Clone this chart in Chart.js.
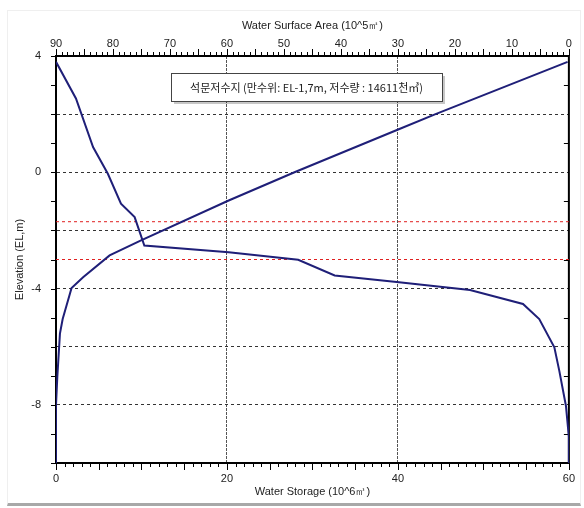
<!DOCTYPE html>
<html>
<head>
<meta charset="utf-8">
<script src="https://cdn.jsdelivr.net/npm/chart.js@4.4.1/dist/chart.umd.min.js"></script>
<style>
  body { margin:0; background:#fff; }
  #frame { position:absolute; left:7px; top:10px; width:572px; height:492px; border:1px solid #efefef; border-bottom:3px solid #a8a8a8; }
  #chart { position:absolute; left:0; top:0; }
</style>
</head>
<body>
<div id="frame"></div>
<canvas id="chart" width="584" height="508"></canvas>
<script>
// water storage curve (10^6 m3) vs elevation (EL, m)
const storage     = [0, 0, 0.15, 0.46, 0.78, 1.82, 3.17, 6.27, 9.95, 20.2, 27.9, 40.1, 44.4, 59.85];
const storageElev = [-10, -8, -7.06, -5.55, -5.05, -3.98, -3.61, -2.86, -2.34, -0.97, 0.0, 1.48, 2.0, 3.8];

// water surface area curve (10^5 m2) vs elevation
const area     = [90, 86.5, 83.5, 80.9, 78.6, 76.2, 74.5, 59.7, 47.5, 41.1, 29.8, 17.35, 8.05, 5.2, 2.55, 1.68, 0.52, 0, 0];
const areaElev = [3.8, 2.54, 0.87, -0.05, -1.08, -1.54, -2.52, -2.75, -3.01, -3.55, -3.78, -4.05, -4.53, -5.05, -6.02, -6.83, -8.03, -9.1, -10];

// reference levels (red dashed)
const fullLevel = -1.7;
const deadLevel = -3.0;

const boxText = '석문저수지 (만수위: EL-1,7m, 저수량 : 14611천㎥)';

const FONT = "'Liberation Sans', Arial, sans-serif";
const ink = '#222';
const navy = '#1f1f78';
const red = '#e02020';
const none = 'rgba(0,0,0,0)';

const toPts = (xs, ys) => xs.map((v, i) => ({x: v, y: ys[i]}));

const extras = {
  id: 'extras',
  beforeDatasetsDraw(chart) {
    const {ctx, chartArea: a, scales} = chart;
    ctx.save();
    ctx.strokeStyle = '#000';
    ctx.lineWidth = 1;
    const line = (x1, y1, x2, y2) => { ctx.beginPath(); ctx.moveTo(x1, y1); ctx.lineTo(x2, y2); ctx.stroke(); };
    scales.x.ticks.forEach(t => {
      const px = Math.round(scales.x.getPixelForValue(t.value)) + 0.5;
      line(px, a.bottom, px, a.bottom + (t.value % 5 === 0 ? 7 : 4));
    });
    scales.x2.ticks.forEach(t => {
      const px = Math.round(scales.x2.getPixelForValue(t.value)) + 0.5;
      line(px, a.top, px, a.top - (t.value % 5 === 0 ? 7 : 4));
    });
    scales.y.ticks.forEach(t => {
      const py = Math.round(scales.y.getPixelForValue(t.value)) + 0.5;
      line(a.left, py, a.left - 5, py);
      if (Math.abs(t.value % 2) === 1) line(a.right, py, a.right - 5, py);
    });
    ctx.lineWidth = 2;
    line(a.right, a.top - 1, a.right, a.bottom + 1);
    ctx.restore();
  },
  afterDraw(chart) {
    const {ctx, chartArea: a} = chart;
    const x = a.left + 115, y = a.top + 17, w = 271, h = 28;
    ctx.save();
    ctx.fillStyle = 'rgba(0,0,0,0.22)';
    ctx.fillRect(x + 3, y + 3, w, h);
    ctx.fillStyle = '#fff';
    ctx.fillRect(x, y, w, h);
    ctx.strokeStyle = '#444';
    ctx.lineWidth = 1;
    ctx.strokeRect(x + 0.5, y + 0.5, w, h);
    ctx.fillStyle = ink;
    ctx.font = "11px 'Noto Sans CJK KR'";
    ctx.textAlign = 'center';
    ctx.textBaseline = 'middle';
    ctx.fillText(boxText, x + w / 2, y + h / 2 + 1);
    ctx.restore();
  }
};

const tickFont = {family: FONT, size: 11};

new Chart(document.getElementById('chart'), {
  type: 'scatter',
  data: {
    datasets: [
      { label: 'Water Storage', data: toPts(storage, storageElev), xAxisID: 'x', yAxisID: 'y',
        showLine: true, borderColor: navy, borderWidth: 2, pointRadius: 0 },
      { label: 'Water Surface Area', data: toPts(area, areaElev), xAxisID: 'x2', yAxisID: 'y',
        showLine: true, borderColor: navy, borderWidth: 2, pointRadius: 0 },
      { label: 'Full level', data: toPts([0, 60], [fullLevel, fullLevel]), xAxisID: 'x', yAxisID: 'y',
        showLine: true, borderColor: red, borderWidth: 1, borderDash: [3, 3], pointRadius: 0 },
      { label: 'Dead level', data: toPts([0, 60], [deadLevel, deadLevel]), xAxisID: 'x', yAxisID: 'y',
        showLine: true, borderColor: red, borderWidth: 1, borderDash: [3, 3], pointRadius: 0 }
    ]
  },
  options: {
    responsive: false,
    animation: false,
    layout: { padding: { right: 11 } },
    plugins: { legend: { display: false }, tooltip: { enabled: false } },
    scales: {
      x: {
        type: 'linear', position: 'bottom', min: 0, max: 60,
        ticks: { stepSize: 1, autoSkip: false, maxRotation: 0, padding: 9, color: ink, font: tickFont,
                 callback: v => v % 20 === 0 ? v : '' },
        grid: { drawTicks: false, color: c => (c.tick && (c.tick.value === 20 || c.tick.value === 40)) ? '#555' : none },
        border: { color: '#000', width: 2, dash: [2, 2] },
        title: { display: true, text: 'Water Storage (10^6㎥)', color: ink, font: tickFont, padding: { top: 0, bottom: 9 } },
        afterFit: s => { s.height = 45; }
      },
      x2: {
        type: 'linear', position: 'top', min: 0, max: 90, reverse: true,
        ticks: { stepSize: 1, autoSkip: false, maxRotation: 0, padding: 5, color: ink, font: tickFont,
                 callback: v => v % 10 === 0 ? v : '' },
        grid: { drawTicks: false, color: c => (c.tick && (c.tick.value === 30 || c.tick.value === 60)) ? '#555' : none },
        border: { color: '#000', width: 2, dash: [2, 2] },
        title: { display: true, text: 'Water Surface Area (10^5㎡)', color: ink, font: tickFont, padding: { top: 19, bottom: 0 } },
        afterFit: s => { s.height = 56; }
      },
      y: {
        type: 'linear', position: 'left', min: -10, max: 4,
        ticks: { stepSize: 1, autoSkip: false, padding: 15, color: ink, font: tickFont,
                 callback: v => v % 4 === 0 ? v : '' },
        grid: { drawTicks: false, color: c => (c.tick && c.tick.value % 2 === 0 && c.tick.value !== 4 && c.tick.value !== -10) ? '#333' : none },
        border: { color: '#000', width: 2, dash: [3, 3] },
        title: { display: true, text: 'Elevation (EL,m)', color: ink, font: tickFont, padding: { top: 13, bottom: 0 } },
        afterFit: s => { s.width = 56; }
      }
    }
  },
  plugins: [extras]
});
</script>
</body>
</html>
